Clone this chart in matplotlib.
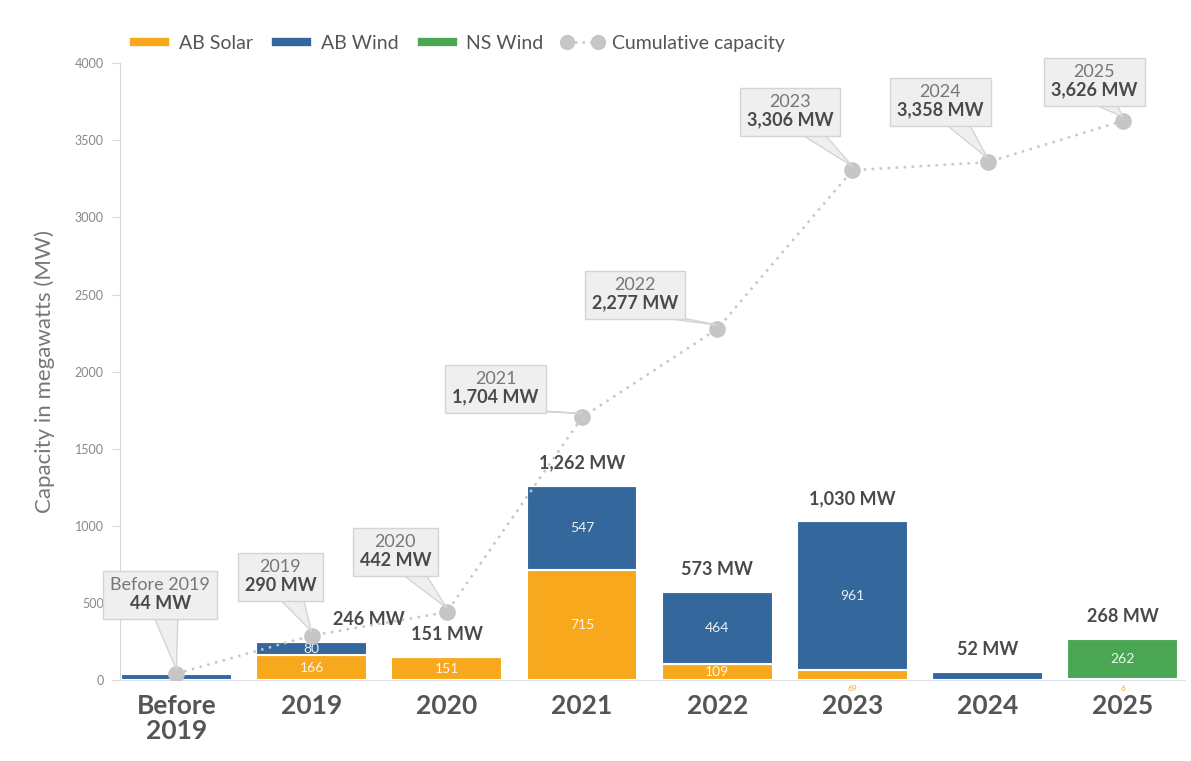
"""Alberta / Nova Scotia renewable capacity additions with cumulative callouts."""
import matplotlib

matplotlib.use("Agg")
import matplotlib.pyplot as plt  # noqa: E402
from matplotlib.lines import Line2D  # noqa: E402
from matplotlib.patches import Polygon, Rectangle  # noqa: E402
from matplotlib.transforms import Bbox  # noqa: E402

plt.rcParams["font.family"] = ["Lato", "DejaVu Sans"]

years = ["Before\n2019", "2019", "2020", "2021", "2022", "2023", "2024", "2025"]
year_names = ["Before 2019", "2019", "2020", "2021", "2022", "2023", "2024", "2025"]
ab_solar = [0, 166, 151, 715, 109, 69, 0, 6]
ab_wind = [44, 80, 0, 547, 464, 961, 52, 0]
ns_wind = [0, 0, 0, 0, 0, 0, 0, 262]
totals = [44, 246, 151, 1262, 573, 1030, 52, 268]
cumulative = [44, 290, 442, 1704, 2277, 3306, 3358, 3626]

# callout box centres (x in bar slots, y in MW) - layout only
box_pos = [(-0.12, 564), (0.77, 680), (1.62, 843), (2.36, 1900),
           (3.39, 2509), (4.54, 3695), (5.65, 3760), (6.79, 3890)]

_SOLAR = "#f8a81c"
_WIND = "#34679c"
_NS = "#4ba653"
_CUM = "#c6c6c6"
_TEXT = "#4a4a4a"
_GREY = "#777777"
_BOX = "#efefef"
_BOXEDGE = "#d4d4d4"

fig = plt.figure(figsize=(11.91, 7.61), dpi=100)
ax = fig.add_axes([0.101, 0.106, 0.894, 0.811])

x = list(range(len(years)))
w = 0.82
kw = dict(width=w, edgecolor="white", linewidth=1.5, zorder=2)
ax.bar(x, ab_solar, color=_SOLAR, **kw)
ax.bar(x, ab_wind, bottom=ab_solar, color=_WIND, **kw)
base = [s + v for s, v in zip(ab_solar, ab_wind)]
ax.bar(x, ns_wind, bottom=base, color=_NS, **kw)

# segment labels
for i in x:
    if i == 0:
        continue
    bottom = 0
    for vals in (ab_solar, ab_wind, ns_wind):
        v = vals[i]
        if v >= 75:
            ax.text(i, bottom + v / 2, f"{v}", ha="center", va="center",
                    color="white", fontsize=10, alpha=0.9, zorder=4)
        elif v > 0 and vals is ab_solar:
            ax.text(i, -50, f"{v}", ha="center", va="center",
                    color=_SOLAR, fontsize=6, zorder=4)
        bottom += v

# bar totals
for i in x:
    if i == 0:
        continue
    tx = i + 0.42 if i == 1 else i
    ax.text(tx, totals[i] + 90, f"{totals[i]:,} MW", ha="center", va="bottom",
            color=_TEXT, fontsize=13, fontweight="bold", zorder=4)

# cumulative line
ax.plot(x, cumulative, color=_CUM, linestyle=(0, (1, 2.2)), linewidth=1.8,
        marker="o", markersize=11, zorder=5)

ax.set_xlim(-0.415, 7.46)
ax.set_ylim(0, 4000)

# callout texts
pairs = []
for i in x:
    bx, by = box_pos[i]
    t1 = ax.annotate(year_names[i], xy=(bx, by), xytext=(0, 0), textcoords="offset points",
                     ha="center", va="bottom", fontsize=13, color=_GREY, zorder=8)
    t2 = ax.annotate(f"{cumulative[i]:,} MW", xy=(bx, by), xytext=(0, -1),
                     textcoords="offset points", ha="center", va="top", fontsize=13,
                     fontweight="bold", color=_TEXT, zorder=8)
    pairs.append((t1, t2))

fig.canvas.draw()
r = fig.canvas.get_renderer()
inv = ax.transData.inverted()
for i, (t1, t2) in enumerate(pairs):
    bb = Bbox.union([t1.get_window_extent(r), t2.get_window_extent(r)])
    bb = Bbox.from_extents(bb.x0 - 7, bb.y0 - 7, bb.x1 + 7, bb.y1 + 6)
    (x0, y0), (x1, y1) = inv.transform([(bb.x0, bb.y0), (bb.x1, bb.y1)])
    ax.add_patch(Rectangle((x0, y0), x1 - x0, y1 - y0, facecolor=_BOX,
                           edgecolor=_BOXEDGE, lw=1, zorder=7, clip_on=False))
    # pointer wedge from the box bottom to the marker
    cx = (bb.x0 + bb.x1) / 2
    px, py = ax.transData.transform((i, cumulative[i]))
    cx = cx + 0.35 * (px - cx)
    cx = min(max(cx, bb.x0 + 14), bb.x1 - 14)
    pts = inv.transform([(cx - 12, bb.y0 + 2), (cx + 12, bb.y0 + 2), (px, py + 4)])
    ax.add_patch(Polygon(pts, closed=True, facecolor=_BOX, edgecolor=_BOXEDGE,
                         lw=1, zorder=6, clip_on=False))

ax.set_yticks(range(0, 4001, 500))
ax.set_xticks(x)
ax.set_xticklabels(years, fontsize=19, fontweight="bold", color="#555555", linespacing=1.05)
ax.tick_params(axis="x", length=0, pad=10)
ax.tick_params(axis="y", length=6, color="#d8d8d8", labelsize=9, labelcolor="#888888", pad=6)
ax.set_ylabel("Capacity in megawatts (MW)", fontsize=16, color=_GREY, labelpad=14)
for s in ("top", "right"):
    ax.spines[s].set_visible(False)
ax.spines["left"].set_color("#d8d8d8")
ax.spines["bottom"].set_color("#dde3ee")

handles = [Line2D([], [], color=_SOLAR, lw=6),
           Line2D([], [], color=_WIND, lw=6),
           Line2D([], [], color=_NS, lw=6),
           Line2D([], [], color=_CUM, lw=1.8, linestyle=(0, (1, 2)), marker="o",
                  markersize=10)]
ax.legend(handles, ["AB Solar", "AB Wind", "NS Wind", "Cumulative capacity"],
          loc="lower left", bbox_to_anchor=(0.0, 1.005), ncol=4, frameon=False,
          fontsize=14, labelcolor="#555555", handlelength=2.2, handletextpad=0.4,
          columnspacing=0.9, borderaxespad=0, numpoints=2)

fig.savefig("out.png", dpi=100, facecolor="white")
